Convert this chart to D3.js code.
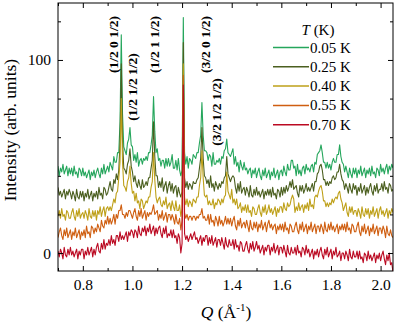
<!DOCTYPE html>
<html>
<head>
<meta charset="utf-8">
<script src="https://cdn.jsdelivr.net/npm/d3@7"></script>
<style>
  body { margin: 0; background: #fff; }
  svg { display: block; }
</style>
</head>
<body>
<div id="plot"></div>
<script>
// Q values (1/Angstrom), step 0.005
const q = [
  0.700,0.705,0.710,0.715,0.720,0.725,0.730,0.735,0.740,0.745,
  0.750,0.755,0.760,0.765,0.770,0.775,0.780,0.785,0.790,0.795,
  0.800,0.805,0.810,0.815,0.820,0.825,0.830,0.835,0.840,0.845,
  0.850,0.855,0.860,0.865,0.870,0.875,0.880,0.885,0.890,0.895,
  0.900,0.905,0.910,0.915,0.920,0.925,0.930,0.935,0.940,0.945,
  0.950,0.955,0.960,0.965,0.970,0.975,0.980,0.985,0.990,0.995,
  1.000,1.005,1.010,1.015,1.020,1.025,1.030,1.035,1.040,1.045,
  1.050,1.055,1.060,1.065,1.070,1.075,1.080,1.085,1.090,1.095,
  1.100,1.105,1.110,1.115,1.120,1.125,1.130,1.135,1.140,1.145,
  1.150,1.155,1.160,1.165,1.170,1.175,1.180,1.185,1.190,1.195,
  1.200,1.205,1.210,1.215,1.220,1.225,1.230,1.235,1.240,1.245,
  1.250,1.255,1.260,1.265,1.270,1.275,1.280,1.285,1.290,1.295,
  1.300,1.305,1.310,1.315,1.320,1.325,1.330,1.335,1.340,1.345,
  1.350,1.355,1.360,1.365,1.370,1.375,1.380,1.385,1.390,1.395,
  1.400,1.405,1.410,1.415,1.420,1.425,1.430,1.435,1.440,1.445,
  1.450,1.455,1.460,1.465,1.470,1.475,1.480,1.485,1.490,1.495,
  1.500,1.505,1.510,1.515,1.520,1.525,1.530,1.535,1.540,1.545,
  1.550,1.555,1.560,1.565,1.570,1.575,1.580,1.585,1.590,1.595,
  1.600,1.605,1.610,1.615,1.620,1.625,1.630,1.635,1.640,1.645,
  1.650,1.655,1.660,1.665,1.670,1.675,1.680,1.685,1.690,1.695,
  1.700,1.705,1.710,1.715,1.720,1.725,1.730,1.735,1.740,1.745,
  1.750,1.755,1.760,1.765,1.770,1.775,1.780,1.785,1.790,1.795,
  1.800,1.805,1.810,1.815,1.820,1.825,1.830,1.835,1.840,1.845,
  1.850,1.855,1.860,1.865,1.870,1.875,1.880,1.885,1.890,1.895,
  1.900,1.905,1.910,1.915,1.920,1.925,1.930,1.935,1.940,1.945,
  1.950,1.955,1.960,1.965,1.970,1.975,1.980,1.985,1.990,1.995,
  2.000,2.005,2.010,2.015,2.020,2.025,2.030,2.035,2.040,2.045,
  2.050
];

// intensities (arb. units, curves already offset)
const i005 = [
  45,40,44,42,46,41,43,45,40,44,
  41,44,40,45,41,42,39,44,43,40,
  44,40,42,39,41,43,38,42,40,43,
  39,42,44,41,39,44,41,46,41,43,
  45,42,47,45,43,50,47,47,52,52,
  68,113,72,55,53,51,57,59,65,56,
  55,48,51,47,52,45,48,49,46,49,
  48,50,48,52,52,56,61,81,63,52,
  54,48,49,45,48,48,44,49,45,49,
  45,47,51,44,44,48,43,49,43,40,
  43,122,52,46,50,44,49,48,46,51,
  50,49,52,52,57,61,78,61,53,53,
  52,48,51,50,45,52,46,46,48,47,
  49,46,50,49,53,54,59,52,51,50,
  52,54,46,50,45,47,42,48,45,43,
  47,43,44,41,43,44,39,43,41,44,
  39,42,44,40,38,43,40,44,39,41,
  43,38,42,40,44,39,41,43,38,42,
  43,40,45,42,40,46,43,43,48,48,
  44,45,40,46,41,43,40,44,45,41,
  46,43,44,42,45,46,42,47,46,51,
  52,53,56,52,47,47,44,47,44,46,
  43,47,49,47,47,51,51,56,50,47,
  46,42,45,42,39,44,41,39,44,41,
  44,39,43,41,45,40,42,44,39,43,
  41,44,40,45,41,42,39,44,43,40,
  46,42,44,41,44,46,41,45,43,46,
  44
];
const i025 = [
  34,30,32,29,31,33,28,32,30,33,
  31,28,32,30,27,33,29,28,32,29,
  32,27,31,29,33,28,30,32,27,31,
  29,32,28,34,30,31,28,34,33,30,
  31,34,37,33,32,38,36,41,38,43,
  57,98,58,44,43,41,46,48,54,45,
  42,37,40,36,34,38,35,33,38,34,
  35,37,35,39,39,44,48,68,50,40,
  40,34,37,34,39,32,35,37,31,35,
  37,32,36,31,34,35,29,34,31,29,
  32,109,39,34,37,33,36,35,33,37,
  36,36,38,39,44,49,65,49,40,39,
  36,38,34,40,34,36,32,37,35,33,
  36,34,37,36,39,40,50,41,39,37,
  39,40,39,34,31,36,32,37,31,33,
  34,30,34,32,29,35,30,29,33,30,
  34,30,32,29,31,33,28,32,30,33,
  30,33,29,34,30,31,28,33,32,29,
  34,30,34,31,35,32,34,37,34,38,
  33,34,35,31,29,35,32,35,31,33,
  36,32,34,32,34,36,32,37,37,41,
  42,45,46,43,38,38,35,37,35,37,
  36,39,40,38,39,42,42,46,41,38,
  37,33,36,34,31,36,33,31,36,33,
  35,30,34,32,36,31,33,35,30,34,
  31,34,36,32,30,35,32,36,31,33,
  33,36,32,37,33,34,31,36,35,32,
  33
];
const i040 = [
  19,22,18,23,19,20,17,22,21,18,
  18,21,23,19,17,22,19,23,18,20,
  21,18,22,20,17,23,19,18,22,19,
  22,17,22,20,24,19,22,24,19,23,
  24,22,24,22,25,28,26,31,32,39,
  47,80,47,35,34,32,37,39,45,36,
  31,32,27,31,26,27,23,28,27,23,
  25,27,26,29,29,34,37,52,38,29,
  26,28,29,25,24,27,25,29,23,25,
  26,22,27,24,22,27,22,22,25,19,
  23,98,29,25,28,24,27,26,24,28,
  27,26,29,29,35,39,53,39,30,29,
  30,25,27,25,25,28,23,26,25,28,
  27,25,28,26,29,30,42,32,30,28,
  33,26,28,25,28,23,24,26,21,24,
  22,25,21,25,21,22,19,24,23,20,
  20,23,25,21,19,24,21,25,20,22,
  25,21,23,20,22,24,19,23,21,24,
  24,21,26,23,22,26,24,25,28,30,
  28,21,24,22,26,22,24,25,21,25,
  23,26,22,28,24,25,23,29,30,29,
  32,34,35,32,27,27,24,26,24,26,
  25,28,26,28,29,28,31,32,28,26,
  22,24,26,21,19,24,21,24,20,22,
  22,19,23,21,18,24,20,19,23,20,
  23,18,22,20,24,19,21,23,18,22,
  24,20,22,19,21,23,18,22,20,23,
  21
];
const i055 = [
  8,11,13,9,7,12,9,13,8,10,
  12,7,11,9,13,8,10,12,7,11,
  9,12,8,14,10,11,8,14,13,10,
  13,11,15,13,11,17,14,13,17,15,
  19,15,18,15,17,20,15,20,18,22,
  22,25,20,20,18,21,19,22,22,20,
  18,21,23,19,17,22,19,23,18,20,
  22,17,21,19,21,20,22,25,20,21,
  22,17,20,18,22,17,19,21,16,20,
  20,17,20,18,15,20,16,15,18,12,
  17,92,21,18,20,17,19,19,17,19,
  19,17,19,18,20,20,23,18,19,17,
  17,20,15,20,16,17,14,19,17,14,
  19,15,17,14,16,19,15,18,15,18,
  14,17,19,14,12,17,14,18,13,15,
  16,13,17,14,11,17,13,12,16,13,
  16,11,15,13,17,12,14,16,11,15,
  17,13,15,12,14,15,10,14,12,15,
  12,15,11,16,12,13,10,15,14,11,
  11,14,16,12,10,15,12,16,11,13,
  15,10,14,12,16,11,13,15,10,14,
  14,11,15,13,10,16,12,11,15,12,
  16,12,14,11,13,15,10,14,12,15,
  12,15,11,16,12,13,10,15,14,11,
  11,14,16,11,9,14,11,15,10,12,
  14,9,13,11,15,10,12,14,9,13,
  13,10,14,12,8,14,10,9,12,9,
  8
];
const i070 = [
  1,-2,2,0,-3,3,-1,-2,2,-1,
  3,-1,1,-2,0,2,-3,1,-1,2,
  2,-3,1,-1,3,-1,1,3,-2,2,
  -1,3,5,1,0,5,2,7,2,5,
  4,7,4,9,5,7,4,9,9,6,
  11,7,9,7,9,11,6,11,9,12,
  11,8,12,11,8,14,10,9,13,11,
  14,9,13,11,15,10,12,14,9,13,
  10,13,14,10,8,13,10,14,8,10,
  9,12,8,12,8,9,5,10,8,0,
  5,87,10,7,9,6,8,10,7,9,
  11,7,8,5,7,9,4,8,6,9,
  9,4,8,5,9,4,6,8,3,7,
  7,4,8,5,2,8,4,3,7,4,
  4,7,2,7,3,4,1,6,5,1,
  1,4,6,2,0,5,2,6,1,3,
  6,2,4,0,2,4,-1,3,1,4,
  4,-1,3,1,5,0,2,4,-1,3,
  3,0,4,1,-2,4,0,-1,3,0,
  0,3,-1,4,0,1,-2,3,2,-1,
  4,0,2,-2,0,2,-3,1,-1,2,
  -2,1,3,-1,-3,2,-1,3,-2,0,
  2,-3,1,-1,3,-2,-1,1,-4,0,
  0,-3,1,-1,-4,2,-2,-3,1,-2,
  -2,1,-3,1,-3,-2,-5,0,-1,-4,
  1,-3,-1,-4,-2,0,-5,-1,-3,0,
  -4,-1,1,-3,-6,-1,-4,0,-6,-5,
  -10
];

const temps = ["0.05 K", "0.25 K", "0.40 K", "0.55 K", "0.70 K"];
const colors = ["#25a65c", "#4b5f1f", "#bea019", "#cf5e10", "#bb0a22"];
const values = [i005, i025, i040, i055, i070];

const peakLabels = ["(1/2 0 1/2)", "(1/2 1/2 1/2)", "(1/2 1 1/2)", "(3/2 0 1/2)", "(3/2 1/2 1/2)"];

const xTicks = [0.8, 1.0, 1.2, 1.4, 1.6, 1.8, 2.0];
const xMinor = [0.7, 0.9, 1.1, 1.3, 1.5, 1.7, 1.9];
const yTicks = [0, 100];
const yMinor = [20, 40, 60, 80, 120];

const width = 395;
const height = 324;
const marginTop = 3;
const marginRight = 2;
const marginBottom = 53;
const marginLeft = 58;
const serif = "'Liberation Serif', 'Times New Roman', serif";

// where the rotated peak labels sit (baseline Q, centre intensity)
const labelAt = [[0.940, 108], [1.018, 86], [1.109, 108], [1.311, 108], [1.357, 73]];

const x = d3.scaleLinear()
    .domain([0.7, 2.05])
    .range([marginLeft, width - marginRight]);

const y = d3.scaleLinear()
    .domain([-9.3, 129.5])
    .range([height - marginBottom, marginTop]);

const svg = d3.create("svg")
    .attr("width", width)
    .attr("height", height)
    .attr("viewBox", [0, 0, width, height])
    .style("font-family", serif);

svg.append("defs").append("clipPath").attr("id", "clip")
  .append("rect")
    .attr("x", marginLeft).attr("y", marginTop)
    .attr("width", width - marginLeft - marginRight)
    .attr("height", height - marginTop - marginBottom);

// traces, 0.05 K drawn first so the warm ones sit on top
const line = d3.line((d, i) => x(q[i]), d => y(d));
svg.append("g")
    .attr("clip-path", "url(#clip)")
  .selectAll("path")
  .data(values)
  .join("path")
    .attr("d", d => line(d))
    .attr("fill", "none")
    .attr("stroke", (d, i) => colors[i])
    .attr("stroke-width", 1.1)
    .attr("stroke-linejoin", "round");

// axes with inward ticks
function styleAxis(g) {
  g.select(".domain").remove();
  g.selectAll("line").attr("stroke", "#000");
  g.selectAll("text").style("font-family", serif).style("font-size", "15.5px").attr("fill", "#000");
}
const bottom = height - marginBottom;
svg.append("g").attr("transform", `translate(0,${bottom})`)
    .call(d3.axisBottom(x).tickValues(xTicks).tickSize(-5).tickPadding(8).tickFormat(d3.format(".1f")))
    .call(styleAxis);
svg.append("g").attr("transform", `translate(0,${bottom})`)
    .call(d3.axisBottom(x).tickValues(xMinor).tickSize(-3).tickFormat(""))
    .call(styleAxis);
svg.append("g").attr("transform", `translate(0,${marginTop})`)
    .call(d3.axisTop(x).tickValues(xTicks).tickSize(-5).tickFormat(""))
    .call(styleAxis);
svg.append("g").attr("transform", `translate(0,${marginTop})`)
    .call(d3.axisTop(x).tickValues(xMinor).tickSize(-3).tickFormat(""))
    .call(styleAxis);
svg.append("g").attr("transform", `translate(${marginLeft},0)`)
    .call(d3.axisLeft(y).tickValues(yTicks).tickSize(-5).tickPadding(7))
    .call(styleAxis);
svg.append("g").attr("transform", `translate(${marginLeft},0)`)
    .call(d3.axisLeft(y).tickValues(yMinor).tickSize(-3).tickFormat(""))
    .call(styleAxis);
svg.append("g").attr("transform", `translate(${width - marginRight},0)`)
    .call(d3.axisRight(y).tickValues(yTicks).tickSize(-5).tickFormat(""))
    .call(styleAxis);
svg.append("g").attr("transform", `translate(${width - marginRight},0)`)
    .call(d3.axisRight(y).tickValues(yMinor).tickSize(-3).tickFormat(""))
    .call(styleAxis);

svg.append("rect")
    .attr("x", marginLeft).attr("y", marginTop)
    .attr("width", width - marginLeft - marginRight)
    .attr("height", height - marginTop - marginBottom)
    .attr("fill", "none")
    .attr("stroke", "#000")
    .attr("stroke-width", 1);

// axis titles
svg.append("text")
    .attr("transform", `translate(16,130) rotate(-90)`)
    .attr("text-anchor", "middle")
    .style("font-size", "17.5px")
    .text("Intensity (arb. units)");

const xt = svg.append("text")
    .attr("x", 226).attr("y", 318)
    .attr("text-anchor", "middle")
    .style("font-size", "17.5px");
xt.append("tspan").style("font-style", "italic").text("Q");
xt.append("tspan").text(" (Å");
xt.append("tspan").attr("dy", -7).style("font-size", "11px").text("-1");
xt.append("tspan").attr("dy", 7).text(")");

// peak indices
svg.append("g")
  .selectAll("text")
  .data(peakLabels)
  .join("text")
    .attr("transform", (d, i) => `translate(${x(labelAt[i][0])},${y(labelAt[i][1])}) rotate(-90)`)
    .attr("text-anchor", "middle")
    .style("font-size", "13.5px")
    .style("font-weight", "bold")
    .text(d => d);

// legend
const legend = svg.append("g").attr("transform", "translate(273,0)");
const lt = legend.append("text")
    .attr("x", 45).attr("y", 35)
    .attr("text-anchor", "middle")
    .style("font-size", "15px");
lt.append("tspan").style("font-style", "italic").text("T");
lt.append("tspan").text(" (K)");

const item = legend.selectAll("g.item")
  .data(temps)
  .join("g")
    .attr("class", "item")
    .attr("transform", (d, i) => `translate(0,${47.5 + i * 19.3})`);
item.append("line")
    .attr("x1", 0).attr("x2", 36)
    .attr("stroke", (d, i) => colors[i])
    .attr("stroke-width", 1.5);
item.append("text")
    .attr("x", 37).attr("y", 5)
    .style("font-size", "15px")
    .text(d => d);

document.querySelector("#plot").append(svg.node());
</script>
</body>
</html>
